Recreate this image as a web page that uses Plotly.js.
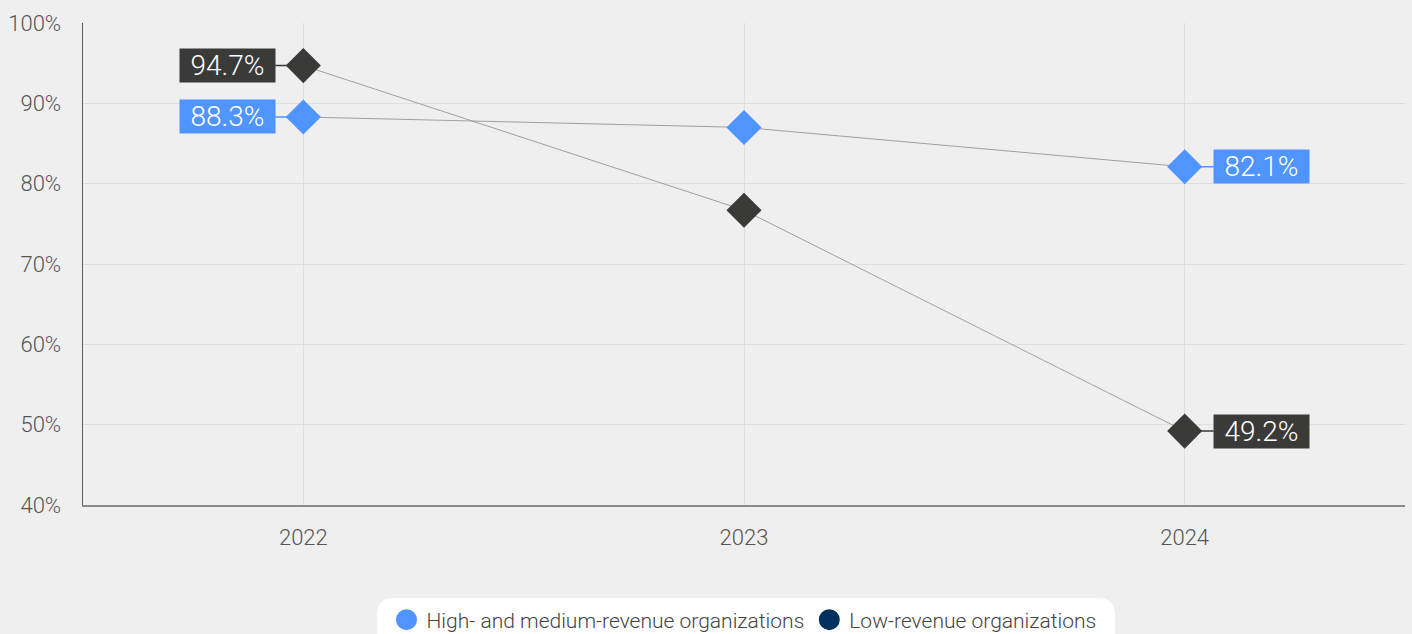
<!DOCTYPE html>
<html>
<head>
<meta charset="utf-8">
<script src="https://cdn.plot.ly/plotly-3.0.1.min.js"></script>
<style>html,body{margin:0;padding:0;background:#efefef;}#chart{width:1412px;height:634px;}</style>
</head>
<body>
<div id="chart"></div>
<script>
var years = [2022, 2023, 2024];
var highMedium = [88.3, 87.0, 82.1];
var lowRevenue = [94.7, 76.7, 49.2];
var seriesNames = ["High- and medium-revenue organizations", "Low-revenue organizations"];
var yTickVals = [40, 50, 60, 70, 80, 90, 100];
var yTickText = ["40%", "50%", "60%", "70%", "80%", "90%", "100%"];

var blue = "#4f94ff", dark = "#3a3a38", navy = "#00305e";
var fam = "Roboto, 'Liberation Sans', sans-serif";

var traces = [
  {x: years, y: highMedium, mode: "lines+markers", showlegend: false, hoverinfo: "skip",
   line: {color: "#a0a0a0", width: 1}, marker: {symbol: "diamond", size: 27, color: blue}},
  {x: years, y: lowRevenue, mode: "lines+markers", showlegend: false, hoverinfo: "skip",
   line: {color: "#a0a0a0", width: 1}, marker: {symbol: "diamond", size: 27, color: dark}},
  {x: [null], y: [null], mode: "markers", name: seriesNames[0],
   marker: {symbol: "circle", size: 16, color: blue, line: {color: blue, width: 5}}},
  {x: [null], y: [null], mode: "markers", name: seriesNames[1],
   marker: {symbol: "circle", size: 16, color: navy, line: {color: navy, width: 5}}}
];

function lab(x, y, txt, color, ax) {
  return {x: x, y: y, xref: "x", yref: "y", text: txt, showarrow: true, arrowhead: 0,
    arrowcolor: color, arrowwidth: 1.5, ax: ax, ay: 0, standoff: 13,
    width: 93, height: 31, align: "center", valign: "middle",
    bgcolor: color, borderpad: 1, font: {family: fam, size: 28, color: "#ffffff", weight: 300}};
}

var annotations = [
  lab(years[0], lowRevenue[0], lowRevenue[0].toFixed(1) + "%", dark, -76),
  lab(years[0], highMedium[0], highMedium[0].toFixed(1) + "%", blue, -76),
  lab(years[2], highMedium[2], highMedium[2].toFixed(1) + "%", blue, 77),
  lab(years[2], lowRevenue[2], lowRevenue[2].toFixed(1) + "%", dark, 77)
];

var layout = {
  width: 1412, height: 634,
  paper_bgcolor: "#efefef", plot_bgcolor: "#efefef",
  margin: {l: 83, r: 7, t: 23, b: 129, autoexpand: false},
  font: {family: fam, color: "#555555", size: 22},
  xaxis: {range: [2021.5, 2024.5], tickvals: years, ticktext: years.map(String),
    showgrid: true, gridcolor: "#dedede", gridwidth: 1, zeroline: false,
    showline: true, linecolor: "#8a8a8a", linewidth: 1.5, ticks: "", ticklabelstandoff: 12,
    tickfont: {family: fam, size: 22, color: "#555555", weight: 300}, fixedrange: true, automargin: false},
  yaxis: {range: [40, 100], tickvals: yTickVals, ticktext: yTickText,
    showgrid: true, gridcolor: "#dedede", gridwidth: 1, zeroline: false,
    showline: true, linecolor: "#5a5a5a", linewidth: 1.5, ticks: "", ticklabelstandoff: 16,
    tickfont: {family: fam, size: 22, color: "#555555", weight: 300}, fixedrange: true, automargin: false},
  showlegend: true,
  legend: {orientation: "h", x: 0.5, xanchor: "center", y: -0.2386, yanchor: "middle",
    bgcolor: "rgba(0,0,0,0)", font: {family: fam, size: 21, color: "#444444", weight: 300},
    tracegroupgap: 0},
  shapes: [{type: "path", xref: "paper", yref: "paper", layer: "below",
    path: "M 0.235,-0.193 L 0.768,-0.193 Q 0.7806,-0.193 0.7806,-0.23 L 0.7806,-0.30 L 0.2224,-0.30 L 0.2224,-0.23 Q 0.2224,-0.193 0.235,-0.193 Z",
    fillcolor: "#ffffff", line: {width: 0}}],
  annotations: annotations
};

Plotly.newPlot("chart", traces, layout, {displayModeBar: false, staticPlot: true});
</script>
</body>
</html>
